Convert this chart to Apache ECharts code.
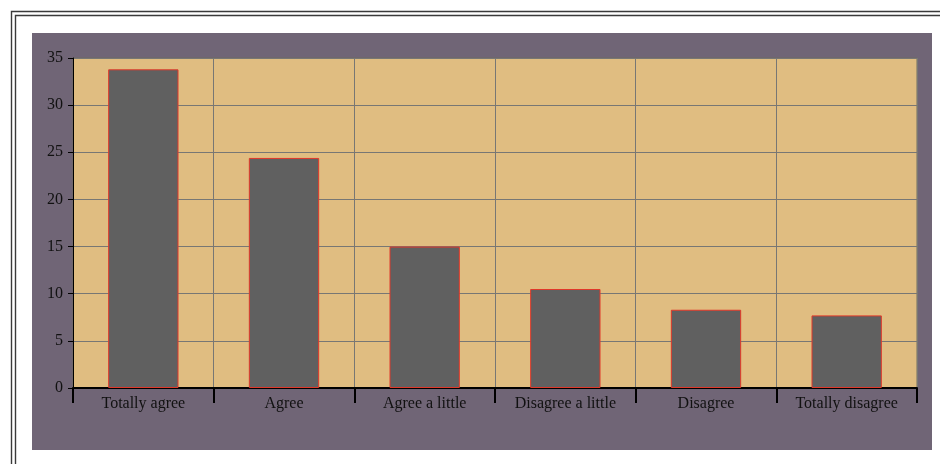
<!DOCTYPE html>
<html>
<head>
<meta charset="utf-8">
<script src="https://cdn.jsdelivr.net/npm/echarts@6/dist/echarts.min.js"></script>
<style>
  html, body { margin: 0; padding: 0; background: #fff; }
  #chart { width: 940px; height: 464px; }
</style>
</head>
<body>
<div id="chart"></div>
<script>
var categories = ["Totally agree", "Agree", "Agree a little", "Disagree a little", "Disagree", "Totally disagree"];
var values = [33.8, 24.4, 15.0, 10.5, 8.3, 7.7];
var yTicks = [0, 35, 5]; // min, max, interval

var myChart = echarts.init(document.getElementById("chart"));
var option = {
  backgroundColor: "#ffffff",
  animation: false,
  graphic: [
    // outer double frame
    { type: "rect", shape: { x: 11.5, y: 11.5, width: 960, height: 480 },
      style: { fill: "none", stroke: "#3a3a3a", lineWidth: 1.4 } },
    { type: "rect", shape: { x: 15.5, y: 15.5, width: 960, height: 480 },
      style: { fill: "none", stroke: "#3a3a3a", lineWidth: 1.4 } },
    // chart area background
    { type: "rect", z: -10, shape: { x: 32, y: 33, width: 900, height: 417 },
      style: { fill: "#706576" } }
  ],
  grid: {
    left: 73,
    right: 23,
    top: 58,
    bottom: 76,
    show: true,
    backgroundColor: "#e0bd81",
    borderColor: "#6e6a62",
    borderWidth: 1
  },
  xAxis: {
    type: "category",
    data: categories,
    axisLine: { lineStyle: { color: "#000", width: 2 } },
    axisTick: { show: true, length: 15, lineStyle: { color: "#000", width: 2 } },
    axisLabel: { color: "#111", fontFamily: "Liberation Serif", fontSize: 16, margin: 8 },
    splitLine: { show: true, lineStyle: { color: "#787774", width: 1 } }
  },
  yAxis: {
    type: "value",
    min: yTicks[0],
    max: yTicks[1],
    interval: yTicks[2],
    axisLine: { show: true, lineStyle: { color: "#000", width: 1 } },
    axisTick: { show: true, length: 5, lineStyle: { color: "#000" } },
    axisLabel: { color: "#111", fontFamily: "Liberation Serif", fontSize: 16, margin: 10 },
    splitLine: { show: true, lineStyle: { color: "#787774", width: 1 } }
  },
  series: [
    {
      type: "bar",
      data: values,
      barWidth: "50%",
      itemStyle: { color: "#606060", borderColor: "#e0382a", borderWidth: 1 }
    }
  ]
};
myChart.setOption(option);
</script>
</body>
</html>
